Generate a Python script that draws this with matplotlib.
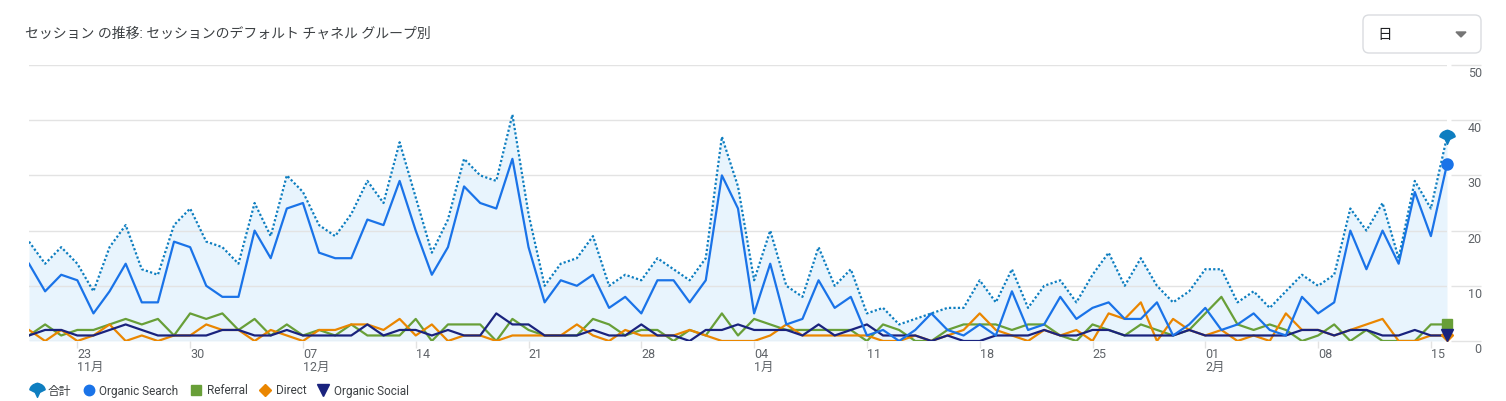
"""Daily sessions by default channel group (GA-style line chart)."""

from matplotlib import pyplot
from matplotlib.lines import Line2D
from matplotlib.patches import FancyBboxPatch, Polygon
from matplotlib.path import Path
import numpy
import pandas

# Data: one value per day, 20 Nov -> 16 Feb.
start_date = '2023-11-20'
total = [18, 14, 17, 14, 9, 17, 21, 13, 12, 21, 24, 18, 17, 14, 25, 19, 30, 27, 21, 19, 23, 29, 25,
         36, 26, 16, 22, 33, 30, 29, 41, 23, 10, 14, 15, 19, 10, 12, 11, 15, 13, 11, 15, 37, 28,
         11, 20, 10, 8, 17, 10, 13, 5, 6, 3, 4, 5, 6, 6, 11, 7, 13, 6, 10, 11, 7, 12,
         16, 10, 15, 10, 7, 9, 13, 13, 7, 9, 6, 9, 12, 10, 12, 24, 20, 25, 15, 29, 24, 37]
organic_search = [14, 9, 12, 11, 5, 9, 14, 7, 7, 18, 17, 10, 8, 8, 20, 15, 24, 25, 16, 15, 15, 22, 21,
                  29, 20, 12, 17, 28, 25, 24, 33, 17, 7, 11, 10, 12, 6, 8, 5, 11, 11, 7, 11, 30, 24,
                  5, 14, 3, 4, 11, 6, 8, 1, 2, 0, 2, 5, 2, 1, 3, 1, 9, 2, 3, 8, 4, 6,
                  7, 4, 4, 7, 1, 3, 6, 2, 3, 5, 2, 1, 8, 5, 7, 20, 13, 20, 14, 27, 19, 32]
referral = [1, 3, 1, 2, 2, 3, 4, 3, 4, 1, 5, 4, 5, 2, 4, 1, 3, 1, 2, 1, 3, 1, 1,
            1, 4, 0, 3, 3, 3, 0, 4, 2, 1, 1, 1, 4, 3, 1, 2, 2, 0, 2, 1, 5, 1,
            4, 3, 2, 2, 2, 2, 2, 0, 3, 2, 0, 0, 2, 3, 3, 3, 2, 3, 3, 1, 0, 3,
            2, 1, 3, 2, 1, 2, 5, 8, 3, 2, 3, 2, 0, 1, 3, 0, 2, 0, 0, 0, 3, 3]
direct = [2, 0, 2, 0, 1, 3, 0, 1, 0, 1, 1, 3, 2, 2, 0, 2, 1, 0, 2, 2, 3, 3, 2,
          4, 1, 3, 0, 1, 1, 0, 1, 1, 1, 1, 3, 1, 0, 2, 1, 1, 1, 2, 1, 0, 0,
          0, 1, 3, 1, 1, 1, 1, 1, 0, 0, 1, 0, 1, 2, 5, 2, 1, 0, 2, 1, 2, 0,
          5, 4, 7, 0, 4, 2, 1, 2, 0, 1, 0, 5, 2, 2, 1, 2, 3, 4, 0, 0, 1, 1]
organic_social = [1, 2, 2, 1, 1, 2, 3, 2, 1, 1, 1, 1, 2, 2, 1, 1, 2, 1, 1, 1, 1, 3, 1,
                  2, 2, 1, 2, 1, 1, 5, 3, 3, 1, 1, 1, 2, 1, 1, 3, 1, 1, 0, 2, 2, 3,
                  2, 2, 2, 1, 3, 1, 2, 3, 1, 1, 1, 0, 1, 0, 0, 1, 1, 1, 2, 1, 1, 2,
                  2, 1, 1, 1, 1, 2, 1, 1, 1, 1, 1, 1, 2, 2, 1, 2, 2, 1, 1, 2, 1, 1]
y_ticks = [0, 10, 20, 30, 40, 50]
month_names = {11: '11月', 12: '12月', 1: '1月', 2: '2月'}
title = 'セッション の推移: セッションのデフォルト チャネル グループ別'
legend_labels = ['合計', 'Organic Search', 'Referral', 'Direct', 'Organic Social']

dates = pandas.date_range(start_date, periods=len(total), freq='D')

# Colours.
c_total = '#0e7ec0'
c_search = '#1a73e8'
c_referral = '#689f38'
c_direct = '#ea8600'
c_social = '#1a237e'
c_fill = '#e8f4fd'
c_grid = '#e3e3e3'
c_text = '#5f6368'

pyplot.rcParams['font.family'] = ['Roboto', 'Noto Sans CJK JP', 'DejaVu Sans']

# Pin-shaped marker used for the total series.
pin = Path([(-1.0, 0.1), (-0.9, 0.75), (0.0, 0.95), (0.9, 0.75), (1.0, 0.1),
            (0.3, -0.25), (0.0, -0.9), (-0.3, -0.25), (-1.0, 0.1)],
           [Path.MOVETO, Path.CURVE3, Path.CURVE3, Path.CURVE3, Path.CURVE3,
            Path.LINETO, Path.LINETO, Path.LINETO, Path.CLOSEPOLY])

W, H = 1506, 401
fig = pyplot.figure(figsize=(W / 100, H / 100), dpi=100)
x0, x1, y0, y1 = 29, 1447, 65, 341
ax = fig.add_axes([x0 / W, (H - y1) / H, (x1 - x0) / W, (y1 - y0) / H])

x = numpy.arange(len(total))
ax.fill_between(x, 0, total, color=c_fill, lw=0, zorder=0.5)
for v in y_ticks:
    ax.axhline(v, color=c_grid, lw=1.0, zorder=1)
    ax.hlines(v, 1.0028, 1.024, transform=ax.get_yaxis_transform(),
              color=c_grid, lw=1.0, clip_on=False)
    ax.annotate(str(v), xy=(1.0245, v), xycoords=('axes fraction', 'data'),
                xytext=(0, -1.5), textcoords='offset points',
                ha='right', va='top', fontsize=9, color=c_text)

ax.plot(x, referral, color=c_referral, lw=1.6, zorder=2)
ax.plot(x, direct, color=c_direct, lw=1.6, zorder=2.1)
ax.plot(x, organic_social, color=c_social, lw=1.6, zorder=2.2)
ax.plot(x, organic_search, color=c_search, lw=1.6, zorder=3)
ax.plot(x, total, color=c_total, lw=1.6, linestyle=(0, (1, 1)), zorder=3.1)

# End markers.
ax.plot(x[-1], referral[-1], marker='s', ms=7.5, color=c_referral, zorder=4, clip_on=False)
ax.plot(x[-1], direct[-1], marker='D', ms=6.5, color=c_direct, zorder=4, clip_on=False)
ax.plot(x[-1], organic_social[-1], marker='v', ms=8, color=c_social, zorder=4.1, clip_on=False)
ax.plot(x[-1], organic_search[-1], marker='o', ms=8, color=c_search, zorder=4, clip_on=False)
ax.plot(x[-1], total[-1], marker=pin, ms=11, color=c_total, zorder=4, clip_on=False)

ax.set_xlim(x[0], x[-1])
ax.set_ylim(0, 50)
ax.set_yticks([])

# Weekly ticks, month name under the first tick of each month.
tick_idx = [i for i in range(len(dates)) if (i - 3) % 7 == 0]
tick_labels = []
seen = set()
for i in tick_idx:
    d = dates[i]
    lab = f'{d.day:02d}'
    if d.month not in seen:
        seen.add(d.month)
        lab += '\n' + month_names[d.month]
    tick_labels.append(lab)
ax.set_xticks(tick_idx)
ax.set_xticklabels(tick_labels, ha='left', va='top', fontsize=9,
                   color=c_text, linespacing=0.92)
ax.tick_params(axis='x', length=5, width=1, color=c_grid, pad=0.3)
for s in ax.spines.values():
    s.set_visible(False)

# Title and period selector.
fig.text(25 / W, 1 - 34 / H, title, ha='left', va='center', fontsize=10, color='#3c4043')
box = FancyBboxPatch((1363 / W, 1 - 53 / H), 118 / W, 38 / H,
                     boxstyle='round,pad=0,rounding_size=0.004',
                     transform=fig.transFigure, facecolor='white',
                     edgecolor='#dadce0', lw=1.0, mutation_aspect=W / H)
fig.patches.append(box)
fig.text(1377 / W, 1 - 34.5 / H, '日', ha='left', va='center', fontsize=10.5, color='#202124')
tri = Polygon([(1456 / W, 1 - 32 / H), (1466 / W, 1 - 32 / H), (1461 / W, 1 - 37 / H)],
              closed=True, transform=fig.transFigure, color='#757575')
fig.patches.append(tri)

# Legend.
handles = [Line2D([], [], marker=pin, ms=11, color=c_total, ls='none'),
           Line2D([], [], marker='o', ms=7.5, color=c_search, ls='none'),
           Line2D([], [], marker='s', ms=7, color=c_referral, ls='none'),
           Line2D([], [], marker='D', ms=6.5, color=c_direct, ls='none'),
           Line2D([], [], marker='v', ms=8, color=c_social, ls='none')]
leg = fig.legend(handles, legend_labels, loc='center left',
                 bbox_to_anchor=(31 / W, 1 - 391 / H), ncol=5, frameon=False,
                 fontsize=8.5, handlelength=1.0, handletextpad=0.43,
                 columnspacing=0.95, borderaxespad=0, borderpad=0)
for t in leg.get_texts():
    t.set_color('#3c4043')

fig.savefig('out.png', dpi=100)
